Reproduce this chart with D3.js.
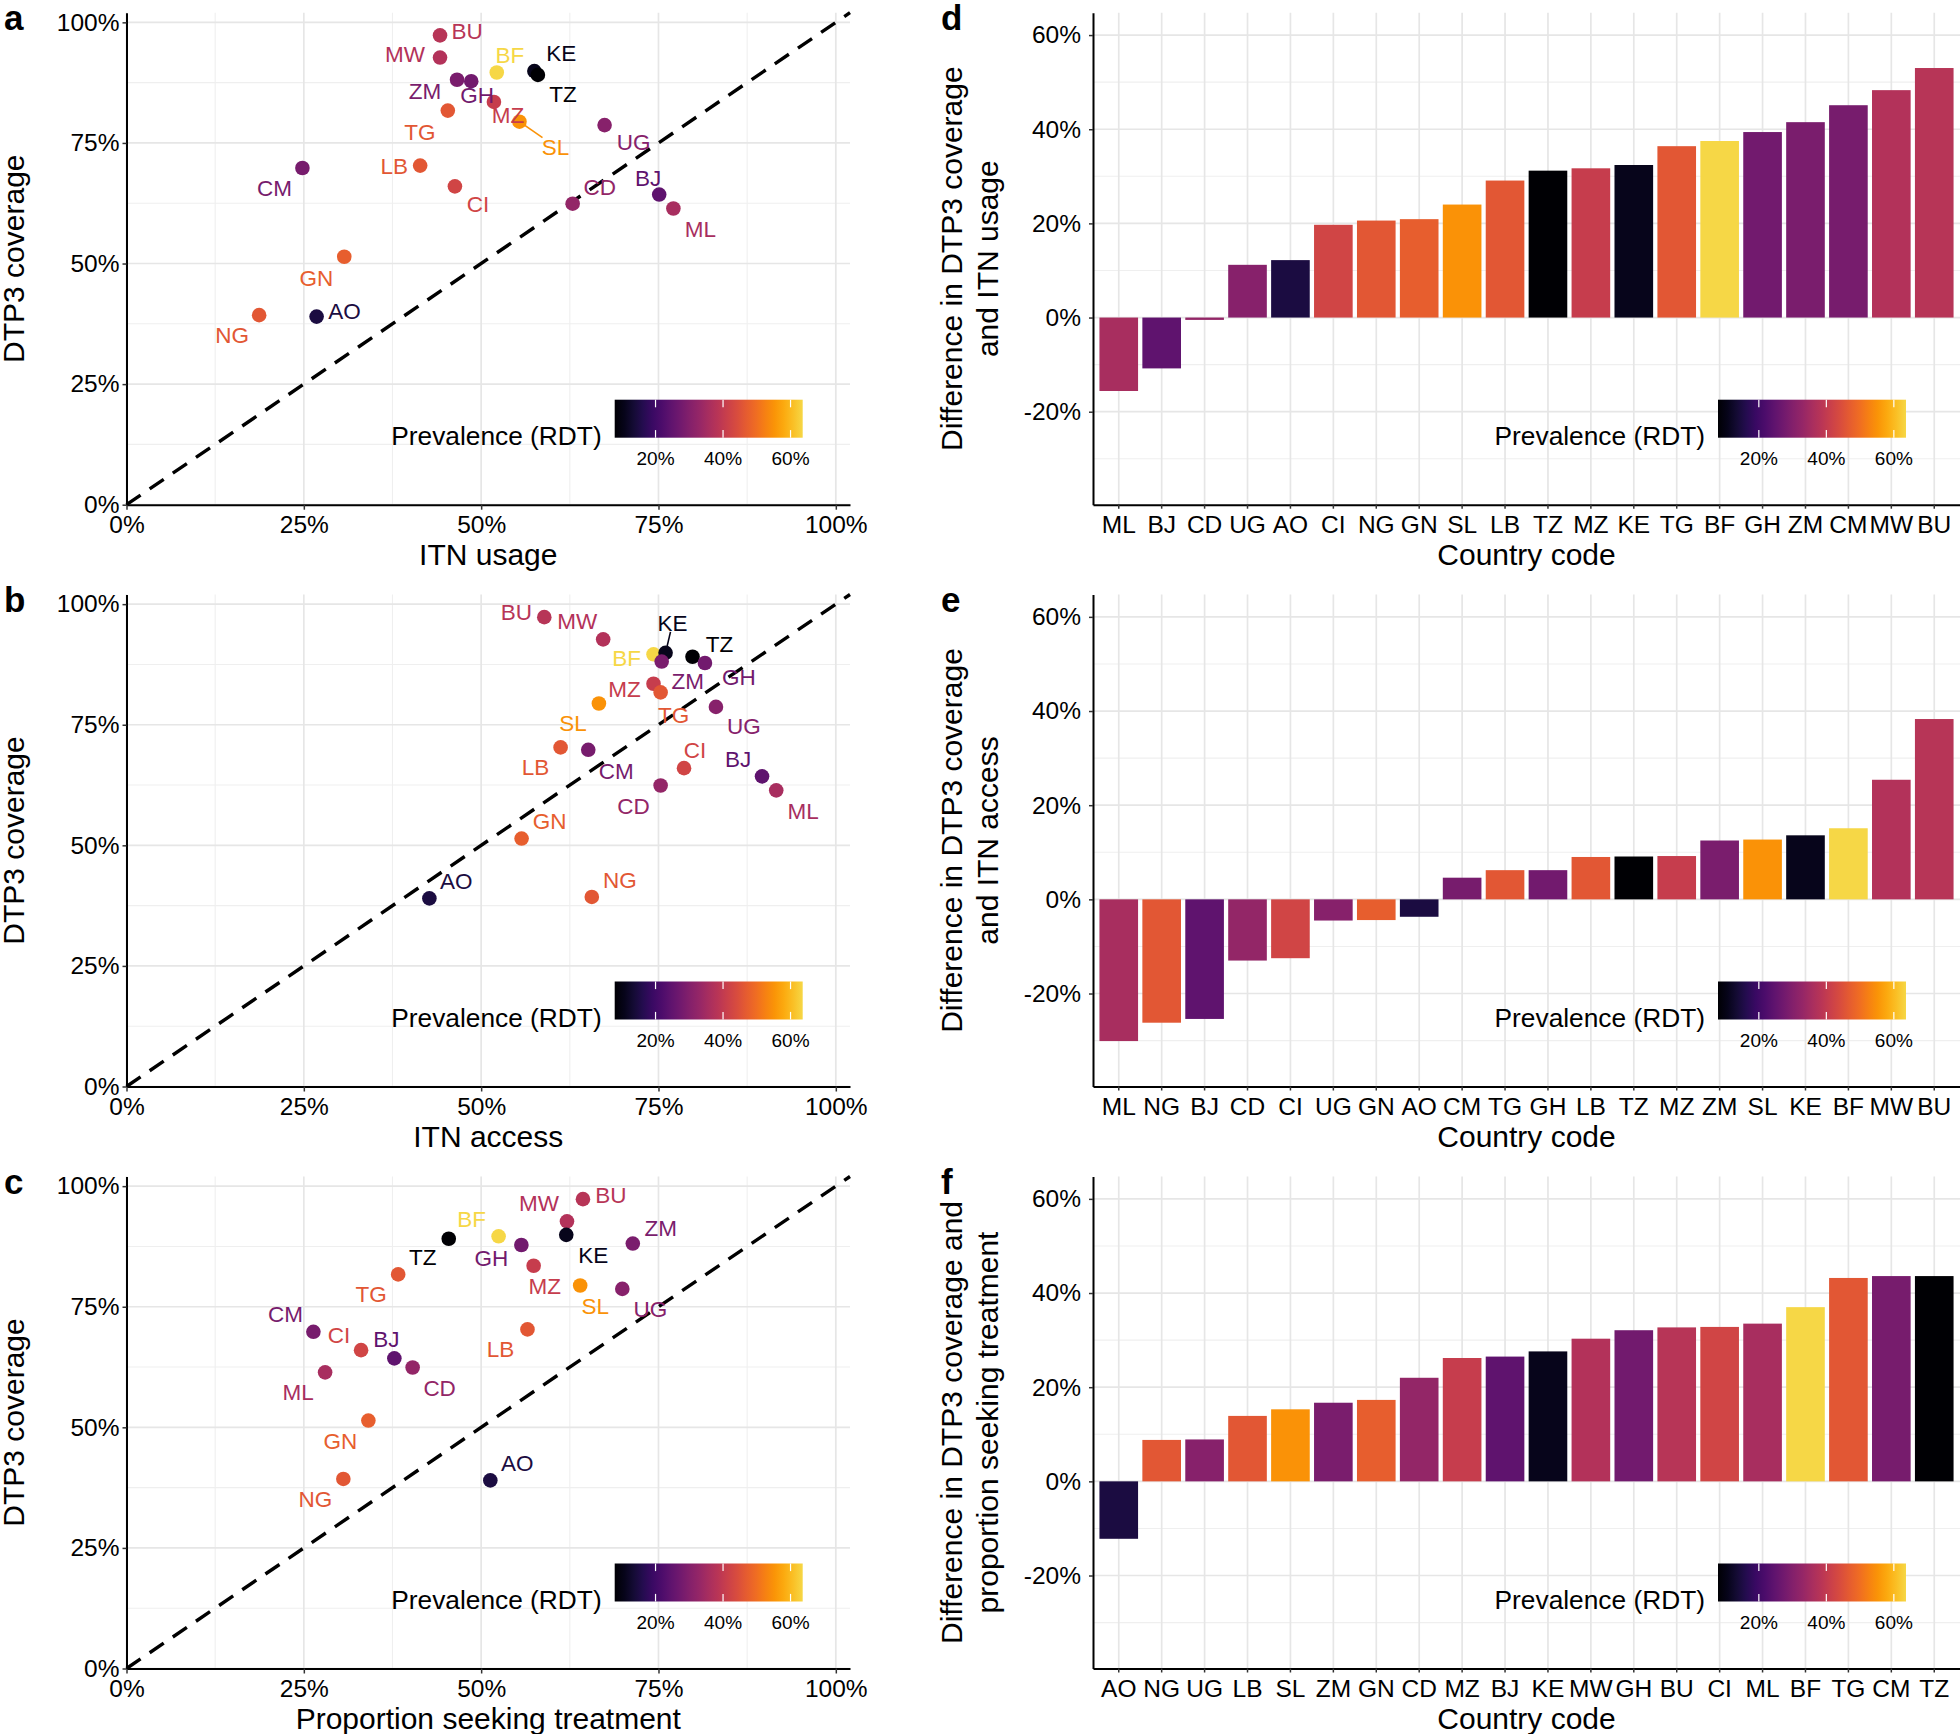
<!DOCTYPE html>
<html><head><meta charset="utf-8">
<script src="https://cdn.jsdelivr.net/npm/d3@7"></script>
<style>
body{margin:0;background:#fff}
svg{display:block}
text{font-family:'Liberation Sans',Arial,Helvetica,sans-serif}
</style>
</head><body>
<svg id="chart" width="1960" height="1734"></svg>
<script>
// ---------------- DATA ----------------
const countries       = ["BU","MW","BF","KE","TZ","ZM","GH","MZ","TG","SL","UG","LB","CM","CI","CD","BJ","ML","GN","NG","AO"];
const dtp3Coverage    = [0.973,0.927,0.896,0.899,0.891,0.881,0.878,0.835,0.817,0.794,0.787,0.703,0.698,0.660,0.624,0.643,0.614,0.514,0.393,0.390];
const itnUsage        = [0.442,0.442,0.522,0.575,0.580,0.466,0.486,0.518,0.453,0.554,0.674,0.414,0.248,0.463,0.629,0.751,0.771,0.307,0.187,0.268];
const itnAccess       = [0.589,0.672,0.743,0.760,0.798,0.7545,0.8155,0.743,0.753,0.666,0.831,0.612,0.651,0.786,0.753,0.896,0.916,0.557,0.656,0.427];
const seekingTreatment= [0.6435,0.621,0.5246,0.620,0.4543,0.7138,0.5567,0.574,0.383,0.6396,0.699,0.5653,0.2635,0.3307,0.4034,0.3776,0.280,0.341,0.3057,0.5129];
const prevalenceRDT   = [0.382,0.376,0.636,0.110,0.079,0.289,0.277,0.407,0.463,0.549,0.308,0.463,0.283,0.426,0.327,0.246,0.358,0.475,0.463,0.147];

const diffUsageOrder  = ["ML","BJ","CD","UG","AO","CI","NG","GN","SL","LB","TZ","MZ","KE","TG","BF","GH","ZM","CM","MW","BU"];
const diffUsageValues = [-0.156,-0.108,-0.005,0.112,0.122,0.197,0.206,0.209,0.240,0.291,0.312,0.317,0.324,0.364,0.375,0.394,0.415,0.451,0.483,0.530];
const diffAccessOrder = ["ML","NG","BJ","CD","CI","UG","GN","AO","CM","TG","GH","LB","TZ","MZ","ZM","SL","KE","BF","MW","BU"];
const diffAccessValues= [-0.301,-0.262,-0.254,-0.130,-0.125,-0.045,-0.044,-0.037,0.046,0.062,0.062,0.090,0.091,0.092,0.125,0.127,0.136,0.151,0.254,0.383];
const diffTreatOrder  = ["AO","NG","UG","LB","SL","ZM","GN","CD","MZ","BJ","KE","MW","GH","BU","CI","ML","BF","TG","CM","TZ"];
const diffTreatValues = [-0.122,0.088,0.089,0.139,0.153,0.167,0.173,0.220,0.262,0.265,0.276,0.303,0.321,0.327,0.328,0.335,0.370,0.432,0.436,0.436];

const scatterTicks    = [0,0.25,0.5,0.75,1];
const scatterMinor    = [0.125,0.375,0.625,0.875];
const barTicks        = [-0.2,0,0.2,0.4,0.6];
const barMinor        = [-0.3,-0.1,0.1,0.3,0.5];
const legendTicks     = [0.2,0.4,0.6];

// ---------------- LAYOUT (label offsets in px) ----------------
const offsA = {BU:[27,-4],MW:[-35,-4],BF:[13,-18],KE:[27,-18],TZ:[25,19],ZM:[-32,11],GH:[6,14],MZ:[14,13],SL:[36,25],TG:[-28,21],LB:[-26,0],CI:[23,18],CM:[-28,20],UG:[29,17],CD:[27,-17],BJ:[-11,-17],ML:[27,20],GN:[-28,21],NG:[-27,20],AO:[28,-6]};
const offsB = {BU:[-28,-5],MW:[-26,-18],KE:[7,-30],TZ:[27,-13],BF:[-27,4],ZM:[26,19],GH:[34,14],MZ:[-29,5],TG:[13,22],SL:[-26,19],UG:[28,19],LB:[-25,19],CM:[28,21],CI:[11,-18],BJ:[-24,-17],CD:[-27,20],ML:[27,21],GN:[28,-18],NG:[28,-17],AO:[27,-17]};
const offsC = {BU:[28,-4],MW:[-28,-18],BF:[-27,-17],TZ:[-26,18],KE:[27,20],GH:[-30,13],ZM:[28,-16],MZ:[11,20],TG:[-27,19],SL:[15,20],UG:[28,20],LB:[-27,19],CM:[-28,-18],CI:[-22,-15],BJ:[-8,-19],CD:[27,20],ML:[-27,20],GN:[-28,20],NG:[-28,20],AO:[27,-17]};

const svg = d3.select("#chart");
const rows = [12.7, 594.5, 1176.5];
const PH = 492;
const SC = {left:126.5, right:850};
const BC = {left:1093, right:1960};
const TICK_FS = 24.5, TITLE_FS = 30, LABEL_FS = 22.5;
const GRID_MAJ = "#e6e6e6", GRID_MIN = "#efefef";

const prevOf = Object.fromEntries(countries.map((c,i)=>[c,prevalenceRDT[i]]));
const tEnd = 0.9;
const color = d3.scaleSequential(t => d3.interpolateInferno(t*tEnd))
  .domain([d3.min(prevalenceRDT), d3.max(prevalenceRDT)]);
const pct = d => Math.round(d*100) + "%";

// gradient
const defs = svg.append("defs");
const grad = defs.append("linearGradient").attr("id","infernoGrad").attr("x1","0%").attr("x2","100%");
d3.range(0,1.0001,0.05).forEach(s => grad.append("stop").attr("offset",(s*100)+"%").attr("stop-color",d3.interpolateInferno(s*tEnd)));

function styleAxis(a){
  a.select(".domain").attr("stroke","#000").attr("stroke-width",2);
  a.selectAll(".tick line").attr("stroke","#333").attr("stroke-width",1.5);
  a.selectAll(".tick text").attr("fill","#000").style("font-size",TICK_FS+"px").style("font-family","'Liberation Sans',Arial,sans-serif");
}

function drawLegend(panelRight, rightMargin, bottom){
  const lw = 188, lh = 38;
  const lx = panelRight - rightMargin - lw, ly = bottom - 67 - lh;
  const g = svg.append("g");
  g.append("rect").attr("x",lx).attr("y",ly).attr("width",lw).attr("height",lh).attr("fill","url(#infernoGrad)");
  const ls = d3.scaleLinear().domain(color.domain()).range([lx, lx+lw]);
  legendTicks.forEach(v=>{
    g.append("line").attr("x1",ls(v)).attr("x2",ls(v)).attr("y1",ly).attr("y2",ly+lh*0.2).attr("stroke","#fff").attr("stroke-width",1.2);
    g.append("line").attr("x1",ls(v)).attr("x2",ls(v)).attr("y1",ly+lh*0.8).attr("y2",ly+lh).attr("stroke","#fff").attr("stroke-width",1.2);
  });
  g.selectAll(".lt").data(legendTicks).join("text")
    .attr("x",d=>ls(d)).attr("y",ly+lh+27).attr("text-anchor","middle")
    .style("font-size","19px").attr("fill","#000").text(pct);
  g.append("text").attr("x",lx-13).attr("y",ly+lh+7).attr("text-anchor","end")
    .style("font-size","26.3px").attr("fill","#000").text("Prevalence (RDT)");
}

function drawScatter(top, xVals, xTitle, offs, letter, segs){
  const g = svg.append("g");
  const bottom = top + PH;
  const x = d3.scaleLinear().domain([0,1.02]).range([SC.left, SC.right]);
  const y = d3.scaleLinear().domain([0,1.02]).range([bottom, top]);
  // grid
  scatterMinor.forEach(v=>{
    g.append("line").attr("x1",x(v)).attr("x2",x(v)).attr("y1",top).attr("y2",bottom).attr("stroke",GRID_MIN).attr("stroke-width",1.1);
    g.append("line").attr("y1",y(v)).attr("y2",y(v)).attr("x1",SC.left).attr("x2",SC.right).attr("stroke",GRID_MIN).attr("stroke-width",1.1);
  });
  scatterTicks.forEach(v=>{
    g.append("line").attr("x1",x(v)).attr("x2",x(v)).attr("y1",top).attr("y2",bottom).attr("stroke",GRID_MAJ).attr("stroke-width",1.7);
    g.append("line").attr("y1",y(v)).attr("y2",y(v)).attr("x1",SC.left).attr("x2",SC.right).attr("stroke",GRID_MAJ).attr("stroke-width",1.7);
  });
  drawLegend(SC.right, 47.3, bottom);
  // diagonal
  g.append("line").attr("x1",x(0)).attr("y1",y(0)).attr("x2",x(1.02)).attr("y2",y(1.02))
    .attr("stroke","#000").attr("stroke-width",3.4).attr("stroke-dasharray","17,11");
  // axes
  const xa = g.append("g").attr("transform",`translate(0,${bottom})`)
    .call(d3.axisBottom(x).tickValues(scatterTicks).tickFormat(pct).tickSize(5).tickSizeOuter(0).tickPadding(6));
  styleAxis(xa);
  const ya = g.append("g").attr("transform",`translate(${SC.left},0)`)
    .call(d3.axisLeft(y).tickValues(scatterTicks).tickFormat(pct).tickSize(4).tickSizeOuter(0).tickPadding(3));
  styleAxis(ya);
  const pts = countries.map((c,i)=>({c, xv:xVals[i], yv:dtp3Coverage[i], p:prevalenceRDT[i]}));
  pts.filter(d=>segs.includes(d.c)).forEach(d=>{
    const [dx,dy] = offs[d.c];
    const hw = d.c.length*8, hh = 9;
    const t = Math.max((Math.abs(dx)-hw)/Math.abs(dx), (Math.abs(dy)-hh)/Math.abs(dy));
    g.append("line").attr("x1",x(d.xv)).attr("y1",y(d.yv)).attr("x2",x(d.xv)+dx*t).attr("y2",y(d.yv)+dy*t)
      .attr("stroke",color(d.p)).attr("stroke-width",1.6);
  });
  g.selectAll(".pt").data(pts).join("circle")
    .attr("cx",d=>x(d.xv)).attr("cy",d=>y(d.yv)).attr("r",7.3).attr("fill",d=>color(d.p));
  g.selectAll(".lbl").data(pts).join("text")
    .attr("x",d=>x(d.xv)+offs[d.c][0]).attr("y",d=>y(d.yv)+offs[d.c][1]).attr("dy","0.36em")
    .attr("text-anchor","middle").style("font-size",LABEL_FS+"px").attr("fill",d=>color(d.p)).text(d=>d.c);
  g.append("text").attr("x",(SC.left+SC.right)/2).attr("y",bottom+60).attr("text-anchor","middle")
    .style("font-size",TITLE_FS+"px").attr("fill","#000").text(xTitle);
  g.append("text").attr("transform",`translate(23.5,${(top+bottom)/2}) rotate(-90)`).attr("text-anchor","middle")
    .style("font-size",TITLE_FS+"px").attr("fill","#000").text("DTP3 coverage");
  g.append("text").attr("x",4).attr("y",top+17).style("font-size","35px").style("font-weight","bold").attr("fill","#000").text(letter);
}

function drawBars(top, order, vals, titleLines, letter){
  const g = svg.append("g");
  const bottom = top + PH;
  const x = d3.scaleBand().domain(order).range([BC.left, BC.right]).paddingInner(0.1).paddingOuter(0.15);
  const y = d3.scaleLinear().domain([-0.3975,0.6475]).range([bottom, top]);
  const bw = x.bandwidth();
  barMinor.forEach(v=>{
    g.append("line").attr("y1",y(v)).attr("y2",y(v)).attr("x1",BC.left).attr("x2",BC.right).attr("stroke",GRID_MIN).attr("stroke-width",1.1);
  });
  barTicks.forEach(v=>{
    g.append("line").attr("y1",y(v)).attr("y2",y(v)).attr("x1",BC.left).attr("x2",BC.right).attr("stroke",GRID_MAJ).attr("stroke-width",1.7);
  });
  order.forEach(c=>{
    g.append("line").attr("x1",x(c)+bw/2).attr("x2",x(c)+bw/2).attr("y1",top).attr("y2",bottom).attr("stroke",GRID_MAJ).attr("stroke-width",1.7);
  });
  const data = order.map((c,i)=>({c, v:vals[i]}));
  g.selectAll(".bar").data(data).join("rect")
    .attr("x",d=>x(d.c)).attr("width",bw)
    .attr("y",d=>y(Math.max(0,d.v))).attr("height",d=>Math.abs(y(d.v)-y(0)))
    .attr("fill",d=>color(prevOf[d.c]));
  drawLegend(BC.right, 54, bottom);
  const xa = g.append("g").attr("transform",`translate(0,${bottom})`)
    .call(d3.axisBottom(x).tickSize(4).tickSizeOuter(0).tickPadding(7));
  styleAxis(xa);
  const ya = g.append("g").attr("transform",`translate(${BC.left},0)`)
    .call(d3.axisLeft(y).tickValues(barTicks).tickFormat(pct).tickSize(4).tickSizeOuter(0).tickPadding(8));
  styleAxis(ya);
  g.append("text").attr("x",(BC.left+BC.right)/2).attr("y",bottom+60).attr("text-anchor","middle")
    .style("font-size",TITLE_FS+"px").attr("fill","#000").text("Country code");
  titleLines.forEach((t,i)=>{
    g.append("text").attr("transform",`translate(${961.5+i*36.5},${(top+bottom)/2}) rotate(-90)`).attr("text-anchor","middle")
      .style("font-size",TITLE_FS+"px").attr("fill","#000").text(t);
  });
  g.append("text").attr("x",941).attr("y",top+17).style("font-size","35px").style("font-weight","bold").attr("fill","#000").text(letter);
}

drawScatter(rows[0], itnUsage, "ITN usage", offsA, "a", ["SL"]);
drawScatter(rows[1], itnAccess, "ITN access", offsB, "b", ["KE"]);
drawScatter(rows[2], seekingTreatment, "Proportion seeking treatment", offsC, "c", []);
drawBars(rows[0], diffUsageOrder, diffUsageValues, ["Difference in DTP3 coverage","and ITN usage"], "d");
drawBars(rows[1], diffAccessOrder, diffAccessValues, ["Difference in DTP3 coverage","and ITN access"], "e");
drawBars(rows[2], diffTreatOrder, diffTreatValues, ["Difference in DTP3 coverage and","proportion seeking treatment"], "f");
</script>
</body></html>
